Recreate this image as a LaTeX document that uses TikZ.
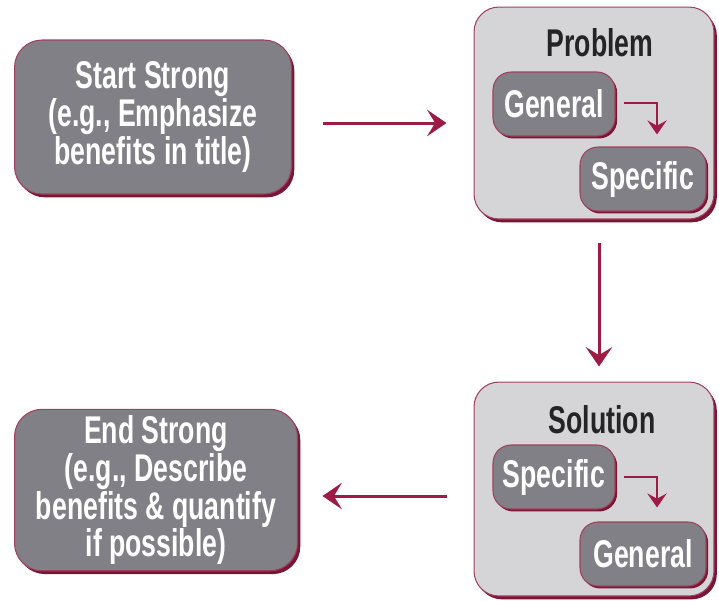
\documentclass[tikz,border=0pt]{standalone}
\usepackage{fontspec}
\setmainfont{Liberation Sans}[FakeStretch=0.69]
\usetikzlibrary{arrows.meta,calc,shadows}
\definecolor{boxgray}{HTML}{808086}
\definecolor{panelgray}{HTML}{D5D5D8}
\definecolor{edgered}{HTML}{A0405E}
\definecolor{shadowred}{HTML}{7A1634}
\definecolor{arrowred}{HTML}{9E1B45}
\definecolor{titletext}{HTML}{242424}
\tikzset{
  txt/.style={font=\bfseries\fontsize{22}{20}\selectfont, align=center},
  bigbox/.style={txt, rectangle, rounded corners=0.55cm, fill=boxgray, draw=edgered, line width=0.6pt, text=white,
    drop shadow={shadow xshift=1.6pt, shadow yshift=-1.9pt, fill=shadowred, opacity=1}},
  panel/.style={rectangle, rounded corners=0.5cm, fill=panelgray, draw=edgered, line width=0.6pt,
    minimum width=4.8cm, drop shadow={shadow xshift=1.6pt, shadow yshift=-1.9pt, fill=shadowred, opacity=1}},
  smallbox/.style={txt, rectangle, rounded corners=0.36cm, fill=boxgray, draw=edgered, line width=0.6pt, text=white,
    minimum height=1.28cm, inner sep=0pt,
    drop shadow={shadow xshift=1.2pt, shadow yshift=-1.4pt, fill=shadowred, opacity=1}},
  ptitle/.style={txt, text=titletext},
  arr/.style={draw=arrowred, line width=1.7pt, -{Stealth[length=11pt,width=15pt,inset=4.5pt]}},
  sarr/.style={draw=arrowred, line width=1.6pt, -{Stealth[length=8pt,width=11pt,inset=3pt]}}
}
\begin{document}
\begin{tikzpicture}[x=0.02cm,y=-0.02cm]
\useasboundingbox (0,0) rectangle (719,600);
% left boxes
\node[bigbox, minimum width=5.54cm, minimum height=3.08cm] (start) at (153,117)
  {Start Strong\\(e.g., Emphasize\\benefits in title)};
\node[bigbox, minimum width=5.66cm, minimum height=3.2cm] (endb) at (156,490)
  {End Strong\\(e.g., Describe\\benefits \& quantify\\if possible)};
% panels
\node[panel, minimum height=4.24cm] (prob) at (594,113) {};
\node[panel, minimum height=4.28cm] (sol) at (594,489) {};
\node[ptitle] (probt) at (600,43) {Problem};
\node[ptitle] (solt) at (602,420) {Solution};
% inner boxes
\node[smallbox, minimum width=2.44cm] (g1) at (554,104) {General};
\node[smallbox, minimum width=2.52cm] (s1) at (643,179) {Specific};
\node[smallbox, minimum width=2.44cm] (s2) at (554,477) {Specific};
\node[smallbox, minimum width=2.52cm] (g2) at (643,554) {General};
% arrows
\draw[arr] ($(start.east)+(31,6)$) -- ($(prob.west)+(-27,10)$);
\draw[arr] ($(prob.south)+(5,23)$) -- ($(sol.north)+(5,-15)$);
\draw[arr] ($(sol.west)+(-27,7)$) -- ($(endb.east)+(24.5,6)$);
\draw[sarr] ($(g1.east)+(8,-1)$) -| ($(s1.north)+(14,-12)$);
\draw[sarr] ($(s2.east)+(8,0)$) -| ($(g2.north)+(14,-14)$);
\end{tikzpicture}
\end{document}
